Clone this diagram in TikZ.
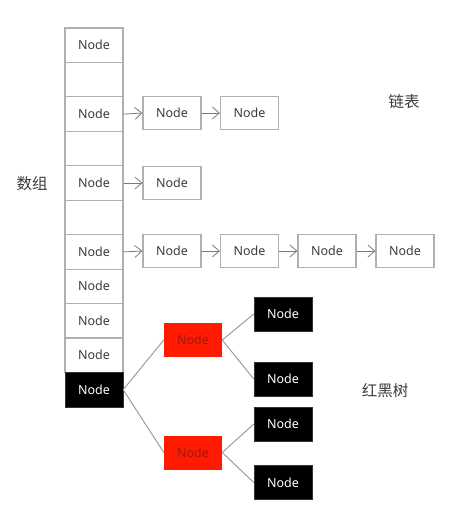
\documentclass[tikz,border=0pt]{standalone}
\usepackage{fontspec}
\setmainfont{Noto Sans}
\newfontfamily\cjk{Noto Sans CJK SC}
\usetikzlibrary{arrows.meta}
\definecolor{boxline}{HTML}{B0B0B0}
\definecolor{txt}{HTML}{3C3C3C}
\definecolor{arrowc}{HTML}{7A7A7A}
\definecolor{rbred}{HTML}{FF1A00}
\definecolor{rbredtxt}{HTML}{A01810}
\tikzset{
  cell/.style={draw=boxline, line width=1.1pt, fill=white, minimum width=58pt, minimum height=34.4pt, inner sep=0pt, font=\fontsize{12.5}{13}\selectfont, text=txt},
  lnode/.style={draw=boxline, line width=1.1pt, fill=white, minimum width=58pt, minimum height=33pt, inner sep=0pt, font=\fontsize{12.5}{13}\selectfont, text=txt},
  blk/.style={draw=black!80, fill=black, minimum width=58pt, minimum height=34pt, inner sep=0pt, font=\fontsize{12.5}{13}\selectfont, text=white},
  rnode/.style={fill=rbred, minimum width=58pt, minimum height=34pt, inner sep=0pt, font=\fontsize{12.5}{13}\selectfont, text=rbredtxt},
  link/.style={draw=arrowc, line width=0.8pt, -{Straight Barb[length=7pt,width=12pt,line width=0.8pt]}},
  edge/.style={draw=arrowc!80, line width=0.9pt},
  lab/.style={font=\cjk\fontsize{15.5}{16}\selectfont, text=txt}
}
\begin{document}
\begin{tikzpicture}[x=1pt,y=-1pt]
\useasboundingbox (0,0) rectangle (473,516);
% array cells
\node[cell] (c1) at (94,45.2) {Node};
\node[cell] (c2) at (94,79.6) {};
\node[cell] (c3) at (94,114.1) {Node};
\node[cell] (c4) at (94,148.5) {};
\node[cell] (c5) at (94,183.0) {Node};
\node[cell] (c6) at (94,217.4) {};
\node[cell] (c7) at (94,251.9) {Node};
\node[cell] (c8) at (94,286.3) {Node};
\node[cell] (c9) at (94,320.8) {Node};
\node[cell] (c10) at (94,355.2) {Node};
\node[blk, minimum height=34.4pt] (c11) at (94,389.7) {Node};
% linked lists
\node[lnode] (a1) at (172,113) {Node};
\node[lnode] (a2) at (249.5,113) {Node};
\node[lnode] (b1) at (172,183) {Node};
\node[lnode] (d1) at (172,251) {Node};
\node[lnode] (d2) at (249.5,251) {Node};
\node[lnode] (d3) at (327,251) {Node};
\node[lnode] (d4) at (405,251) {Node};
\draw[link] (c3.east) -- (a1.west);
\draw[link] (a1.east) -- (a2.west);
\draw[link] (c5.east) -- (b1.west);
\draw[link] (c7.east) -- (d1.west);
\draw[link] (d1.east) -- (d2.west);
\draw[link] (d2.east) -- (d3.west);
\draw[link] (d3.east) -- (d4.west);
% red-black tree
\node[rnode] (r1) at (193,340) {Node};
\node[rnode] (r2) at (193,452.5) {Node};
\node[blk] (k1) at (283,314) {Node};
\node[blk] (k2) at (283,379) {Node};
\node[blk] (k3) at (283,424) {Node};
\node[blk] (k4) at (283,482.5) {Node};
\draw[edge] (c11.east) -- (r1.west);
\draw[edge] (c11.east) -- (r2.west);
\draw[edge] (r1.east) -- (k1.west);
\draw[edge] (r1.east) -- (k2.west);
\draw[edge] (r2.east) -- (k3.west);
\draw[edge] (r2.east) -- (k4.west);
% labels
\node[lab] (l1) at (32,184) {数组};
\node[lab] (l2) at (404,102) {链表};
\node[lab] (l3) at (385,391) {红黑树};
\end{tikzpicture}
\end{document}
